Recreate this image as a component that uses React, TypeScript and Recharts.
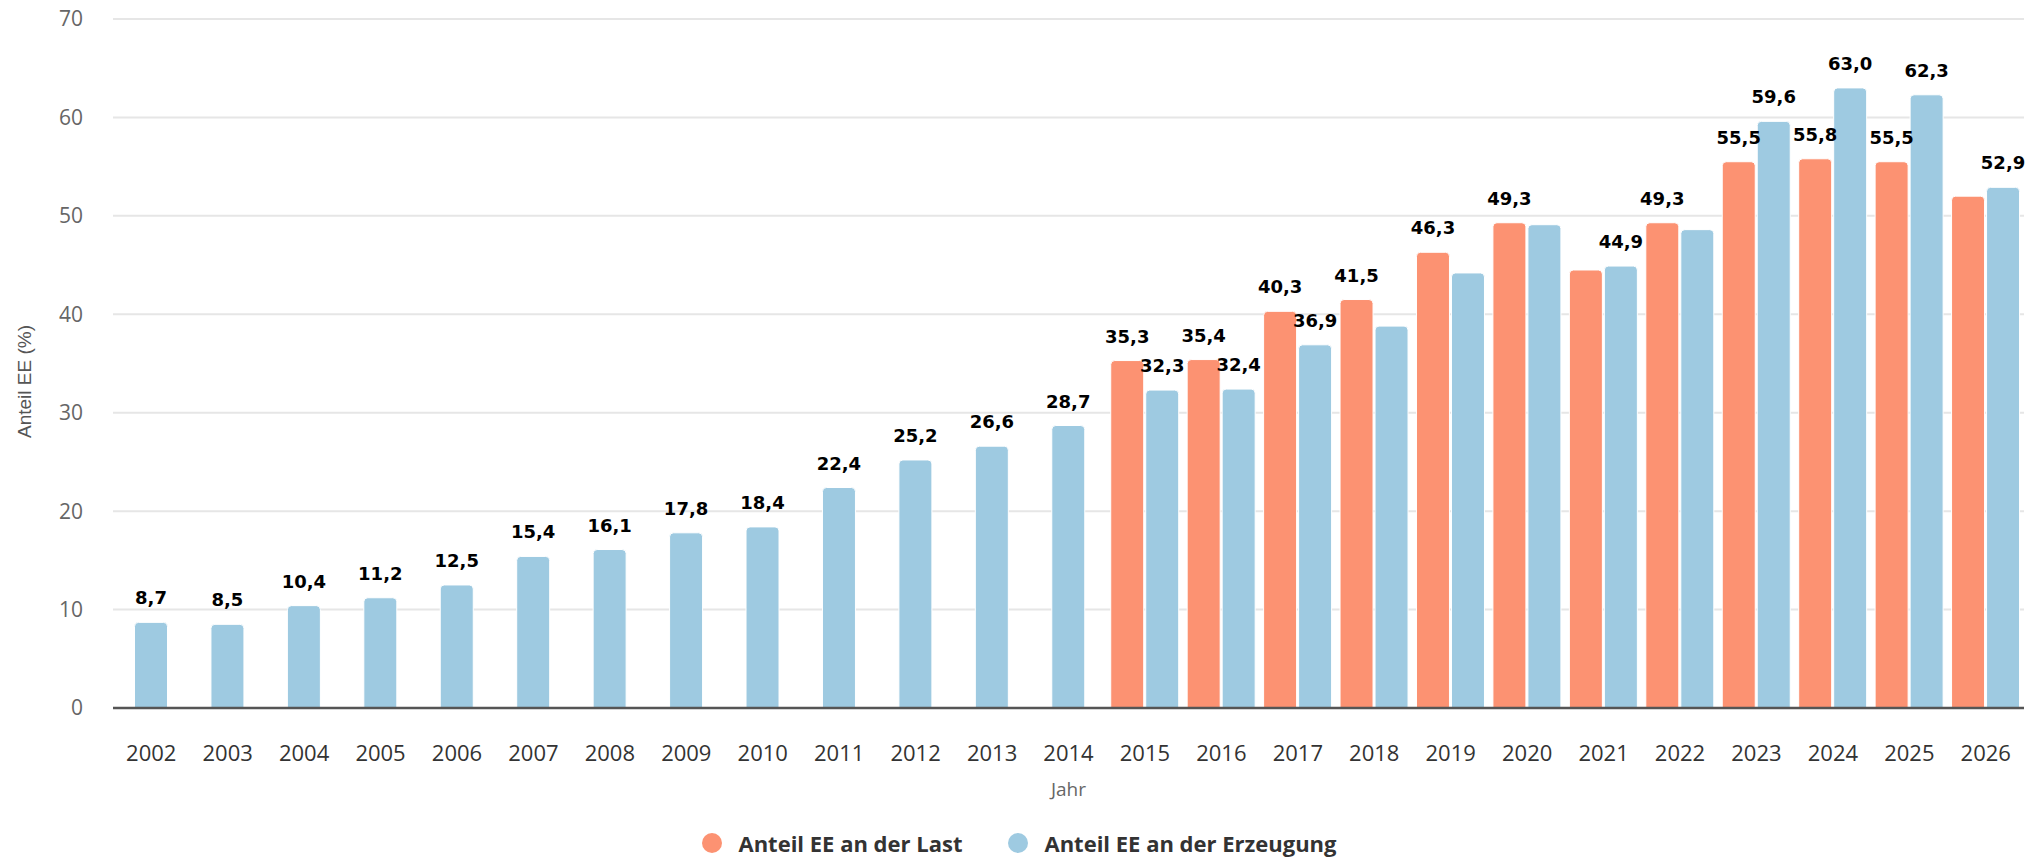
import {
  Bar,
  BarChart,
  CartesianGrid,
  Label,
  LabelList,
  Legend,
  Rectangle,
  XAxis,
  YAxis
} from "recharts";

const years = [
  "2002", "2003", "2004", "2005", "2006", "2007", "2008", "2009", "2010",
  "2011", "2012", "2013", "2014", "2015", "2016", "2017", "2018", "2019",
  "2020", "2021", "2022", "2023", "2024", "2025", "2026"
];

const anteilLast = [
  null, null, null, null, null, null, null, null, null, null, null, null, null,
  35.3, 35.4, 40.3, 41.5, 46.3, 49.3, 44.5, 49.3, 55.5, 55.8, 55.5, 52.0
];

const anteilErzeugung = [
  8.7, 8.5, 10.4, 11.2, 12.5, 15.4, 16.1, 17.8, 18.4, 22.4, 25.2, 26.6, 28.7,
  32.3, 32.4, 36.9, 38.8, 44.2, 49.1, 44.9, 48.6, 59.6, 63.0, 62.3, 52.9
];

const yTicks = [0, 10, 20, 30, 40, 50, 60, 70];

const LAST_COLOR = "#fc9272";
const ERZ_COLOR = "#9ecae1";
const BAR_GAP = 2;

const data = years.map((year, i) => ({
  year,
  last: anteilLast[i],
  erzeugung: anteilErzeugung[i]
}));

const fmt = (v: number) => v.toFixed(1).replace(".", ",");

const rowByYear = (year: string): any => data.find((d) => d.year === year);

// shift a bar to the middle of its category when the other series has no value
const shiftFor = (key: string, row: any, width: number) => {
  if (!row) return 0;
  if (key === "erzeugung" && row.last == null) return -(width + BAR_GAP) / 2;
  if (key === "last" && row.erzeugung == null) return (width + BAR_GAP) / 2;
  return 0;
};

const makeShape = (key: string, color: string) => (props: any) => {
  const { x, y, width, height, payload } = props;
  if (!height || height <= 0) return <g />;
  return (
    <Rectangle
      x={x + shiftFor(key, payload, width)}
      y={y}
      width={width}
      height={height}
      radius={[4, 4, 0, 0]}
      fill={color}
      stroke="#ffffff"
      strokeWidth={1}
    />
  );
};

// labels that would collide with the taller neighbour are hidden, like the source
const makeLabel = (key: string, otherKey: string) => (props: any) => {
  const { x, y, width, value } = props;
  const row = rowByYear(String(value));
  if (!row) return null;
  const own = row[key];
  const other = row[otherKey];
  if (own == null) return null;
  if (other != null && other >= own && other - own < 2.9) return null;
  const cx = x + width / 2 + shiftFor(key, row, width);
  return (
    <text
      x={cx}
      y={y - 18}
      textAnchor="middle"
      fontFamily="DejaVu Sans, Verdana, sans-serif"
      fontWeight="bold"
      fontSize={18}
      fill="#000000"
    >
      {fmt(own)}
    </text>
  );
};

const legendItems = [
  { label: "Anteil EE an der Last", color: LAST_COLOR },
  { label: "Anteil EE an der Erzeugung", color: ERZ_COLOR }
];

const renderLegend = () => (
  <div
    style={{
      height: 30,
      display: "flex",
      justifyContent: "center",
      alignItems: "center",
      gap: 46
    }}
  >
    {legendItems.map((item) => (
      <div key={item.label} style={{ display: "flex", alignItems: "center", gap: 16 }}>
        <span
          style={{
            width: 20,
            height: 20,
            borderRadius: "50%",
            background: item.color,
            display: "inline-block"
          }}
        />
        <span
          style={{
            fontFamily: "'Open Sans', sans-serif",
            fontWeight: 700,
            fontSize: 22,
            color: "#333333"
          }}
        >
          {item.label}
        </span>
      </div>
    ))}
  </div>
);

export default function App() {
  return (
    <div style={{ position: "absolute", left: 0, top: 0, width: 2039, height: 858, background: "#fff" }}>
      <BarChart
        width={2039}
        height={858}
        data={data}
        margin={{ top: 19, right: 15, bottom: 20, left: 0 }}
        barCategoryGap={4}
        barGap={BAR_GAP}
      >
        <CartesianGrid vertical={false} stroke="#e6e6e6" strokeWidth={2} />
        <XAxis
          dataKey="year"
          interval={0}
          height={100}
          tickLine={false}
          axisLine={{ stroke: "#555555", strokeWidth: 2.5 }}
          tickMargin={31}
          tick={{ fill: "#333333", fontSize: 22, fontFamily: "'Open Sans', sans-serif" }}
        >
          <Label
            content={(p: any) => {
              const vb = p.viewBox || {};
              return (
                <text
                  x={vb.x + vb.width / 2}
                  y={vb.y + 83}
                  textAnchor="middle"
                  dominantBaseline="middle"
                  fontFamily="'Open Sans', sans-serif"
                  fontSize={19}
                  fill="#666666"
                >
                  Jahr
                </text>
              );
            }}
          />
        </XAxis>
        <YAxis
          width={113}
          domain={[0, 70]}
          ticks={yTicks}
          axisLine={false}
          tickLine={false}
          tickMargin={24}
          tick={{ fill: "#666666", fontSize: 21, fontFamily: "'Open Sans', sans-serif" }}
        >
          <Label
            content={(p: any) => {
              const vb = p.viewBox || {};
              const cx = vb.x + 26;
              const cy = vb.y + vb.height / 2 + 18;
              return (
                <text
                  x={cx}
                  y={cy}
                  transform={`rotate(-90, ${cx}, ${cy})`}
                  textAnchor="middle"
                  dominantBaseline="middle"
                  fontFamily="'Liberation Sans', Arial, sans-serif"
                  fontSize={19}
                  fill="#555555"
                >
                  Anteil EE (%)
                </text>
              );
            }}
          />
        </YAxis>
        <Legend
          verticalAlign="bottom"
          content={renderLegend}
          wrapperStyle={{ bottom: 0, left: 0, width: 2039 }}
        />
        <Bar
          dataKey="last"
          name="Anteil EE an der Last"
          fill={LAST_COLOR}
          shape={makeShape("last", LAST_COLOR)}
          isAnimationActive={false}
        >
          <LabelList dataKey="year" content={makeLabel("last", "erzeugung")} />
        </Bar>
        <Bar
          dataKey="erzeugung"
          name="Anteil EE an der Erzeugung"
          fill={ERZ_COLOR}
          shape={makeShape("erzeugung", ERZ_COLOR)}
          isAnimationActive={false}
        >
          <LabelList dataKey="year" content={makeLabel("erzeugung", "last")} />
        </Bar>
      </BarChart>
    </div>
  );
}
